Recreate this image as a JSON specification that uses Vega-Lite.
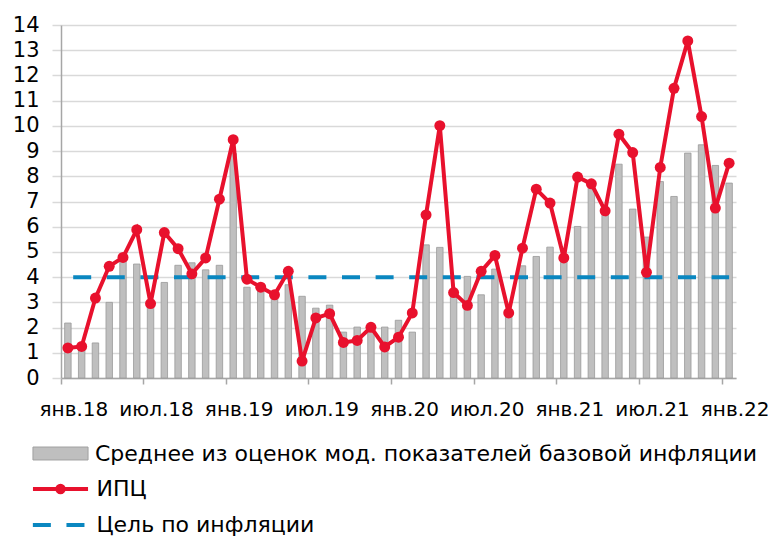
{
  "$schema": "https://vega.github.io/schema/vega-lite/v6.json",
  "width": 675,
  "height": 353,
  "autosize": {"type": "none"},
  "padding": {"left": 61, "top": 25, "right": 32, "bottom": 158},
  "background": "white",
  "config": {
    "view": {"stroke": null},
    "font": "DejaVu Sans",
    "legend": {
      "title": null, "orient": "none", "direction": "vertical", "padding": 0,
      "symbolSize": 1296, "labelFontSize": 22, "labelColor": "#000000", "labelLimit": 800
    },
    "axisY": {
      "labelFontSize": 21,
      "labelColor": "#000000",
      "labelPadding": 13,
      "labelOverlap": false,
      "tickSize": 9,
      "tickColor": "#d9d9d9",
      "tickWidth": 1.5,
      "gridColor": "#d9d9d9",
      "gridWidth": 1.5,
      "domainColor": "#a6a6a6",
      "domainWidth": 1.5
    },
    "axisX": {
      "labelFontSize": 20,
      "labelColor": "#000000",
      "labelPadding": 15,
      "labelOverlap": false,
      "labelBound": false,
      "labelFlush": false,
      "tickSize": 6,
      "tickColor": "#a6a6a6",
      "tickWidth": 1.5,
      "domainColor": "#a6a6a6",
      "domainWidth": 1.5,
      "grid": false
    }
  },
  "data": {"values": [
    {"m": "2018-01", "core": 2.18, "cpi": 1.19, "target": 4},
    {"m": "2018-02", "core": 1.35, "cpi": 1.25, "target": 4},
    {"m": "2018-03", "core": 1.39, "cpi": 3.17, "target": 4},
    {"m": "2018-04", "core": 3.0, "cpi": 4.43, "target": 4},
    {"m": "2018-05", "core": 4.62, "cpi": 4.78, "target": 4},
    {"m": "2018-06", "core": 4.52, "cpi": 5.88, "target": 4},
    {"m": "2018-07", "core": 2.9, "cpi": 2.95, "target": 4},
    {"m": "2018-08", "core": 3.79, "cpi": 5.77, "target": 4},
    {"m": "2018-09", "core": 4.47, "cpi": 5.13, "target": 4},
    {"m": "2018-10", "core": 4.57, "cpi": 4.13, "target": 4},
    {"m": "2018-11", "core": 4.29, "cpi": 4.76, "target": 4},
    {"m": "2018-12", "core": 4.47, "cpi": 7.09, "target": 4},
    {"m": "2019-01", "core": 8.9, "cpi": 9.45, "target": 4},
    {"m": "2019-02", "core": 3.6, "cpi": 3.92, "target": 4},
    {"m": "2019-03", "core": 3.5, "cpi": 3.6, "target": 4},
    {"m": "2019-04", "core": 3.35, "cpi": 3.3, "target": 4},
    {"m": "2019-05", "core": 3.7, "cpi": 4.23, "target": 4},
    {"m": "2019-06", "core": 3.24, "cpi": 0.67, "target": 4},
    {"m": "2019-07", "core": 2.77, "cpi": 2.38, "target": 4},
    {"m": "2019-08", "core": 2.89, "cpi": 2.55, "target": 4},
    {"m": "2019-09", "core": 1.82, "cpi": 1.41, "target": 4},
    {"m": "2019-10", "core": 2.02, "cpi": 1.49, "target": 4},
    {"m": "2019-11", "core": 1.98, "cpi": 2.01, "target": 4},
    {"m": "2019-12", "core": 2.02, "cpi": 1.23, "target": 4},
    {"m": "2020-01", "core": 2.29, "cpi": 1.62, "target": 4},
    {"m": "2020-02", "core": 1.82, "cpi": 2.58, "target": 4},
    {"m": "2020-03", "core": 5.28, "cpi": 6.47, "target": 4},
    {"m": "2020-04", "core": 5.18, "cpi": 10.01, "target": 4},
    {"m": "2020-05", "core": 3.3, "cpi": 3.39, "target": 4},
    {"m": "2020-06", "core": 4.03, "cpi": 2.88, "target": 4},
    {"m": "2020-07", "core": 3.3, "cpi": 4.23, "target": 4},
    {"m": "2020-08", "core": 4.32, "cpi": 4.86, "target": 4},
    {"m": "2020-09", "core": 2.5, "cpi": 2.58, "target": 4},
    {"m": "2020-10", "core": 4.45, "cpi": 5.15, "target": 4},
    {"m": "2020-11", "core": 4.82, "cpi": 7.49, "target": 4},
    {"m": "2020-12", "core": 5.19, "cpi": 6.94, "target": 4},
    {"m": "2021-01", "core": 4.65, "cpi": 4.76, "target": 4},
    {"m": "2021-02", "core": 6.01, "cpi": 7.97, "target": 4},
    {"m": "2021-03", "core": 7.53, "cpi": 7.7, "target": 4},
    {"m": "2021-04", "core": 6.5, "cpi": 6.63, "target": 4},
    {"m": "2021-05", "core": 8.48, "cpi": 9.67, "target": 4},
    {"m": "2021-06", "core": 6.7, "cpi": 8.94, "target": 4},
    {"m": "2021-07", "core": 5.59, "cpi": 4.19, "target": 4},
    {"m": "2021-08", "core": 7.79, "cpi": 8.35, "target": 4},
    {"m": "2021-09", "core": 7.2, "cpi": 11.49, "target": 4},
    {"m": "2021-10", "core": 8.92, "cpi": 13.37, "target": 4},
    {"m": "2021-11", "core": 9.25, "cpi": 10.37, "target": 4},
    {"m": "2021-12", "core": 8.43, "cpi": 6.74, "target": 4},
    {"m": "2022-01", "core": 7.73, "cpi": 8.52, "target": 4}
  ]},
  "encoding": {
    "x": {
      "field": "m", "type": "ordinal", "sort": null,
      "scale": {"paddingInner": 0, "paddingOuter": 0},
      "axis": {
        "title": null,
        "values": ["2018-01","2018-07","2019-01","2019-07","2020-01","2020-07","2021-01","2021-07","2022-01"],
        "labelExpr": "(substring(datum.value,5,7) == '01' ? 'янв.' : 'июл.') + substring(datum.value,2,4)",
        "bandPosition": 0,
        "labelOffset": 6,
        "labelAngle": 0
      }
    }
  },
  "resolve": {"scale": {"color": "independent"}, "legend": {"color": "independent"}},
  "layer": [
    {
      "mark": {"type": "bar", "width": {"band": 0.47}, "stroke": "#999999", "strokeWidth": 0.8},
      "encoding": {
        "y": {
          "field": "core", "type": "quantitative",
          "scale": {"domain": [0, 14], "nice": false},
          "axis": {"title": null, "values": [0,1,2,3,4,5,6,7,8,9,10,11,12,13,14]}
        },
        "color": {
          "datum": "Среднее из оценок мод. показателей базовой инфляции",
          "scale": {"range": ["#bfbfbf"]},
          "legend": {
            "legendX": -19, "legendY": 410, "labelOffset": 16,
            "symbolType": "M-1.53,-0.36H1.53V0.36H-1.53Z",
            "symbolFillColor": "#bfbfbf", "symbolStrokeColor": "#a0a0a0", "symbolStrokeWidth": 1, "symbolOpacity": 1
          }
        }
      }
    },
    {
      "mark": {"type": "line", "strokeWidth": 4, "strokeCap": "butt", "strokeDash": [0.001, 5.3, 18, 10.3]},
      "encoding": {
        "y": {"field": "target", "type": "quantitative", "axis": {"title": null, "values": [0,1,2,3,4,5,6,7,8,9,10,11,12,13,14]}},
        "color": {
          "datum": "Цель по инфляции",
          "scale": {"range": ["#0a87c0"]},
          "legend": {
            "legendX": -20.5, "legendY": 480, "labelOffset": 16,
            "symbolType": "M-1.83,0H1.36",
            "symbolStrokeColor": "#0a87c0", "symbolStrokeWidth": 4, "symbolOpacity": 1,
            "symbolDash": [0.001, 5.3, 18, 10.3]
          }
        }
      }
    },
    {
      "mark": {"type": "line", "strokeWidth": 4, "point": {"filled": true, "size": 120, "opacity": 1}},
      "encoding": {
        "y": {"field": "cpi", "type": "quantitative", "axis": {"title": null, "values": [0,1,2,3,4,5,6,7,8,9,10,11,12,13,14]}},
        "color": {
          "datum": "ИПЦ",
          "scale": {"range": ["#e8112d"]},
          "legend": {
            "legendX": -20.5, "legendY": 444, "labelOffset": 16,
            "symbolType": "M-1.53,0H1.53M0.18,0A0.18,0.18,0,1,1,-0.18,0A0.18,0.18,0,1,1,0.18,0M0.08,0A0.08,0.08,0,1,1,-0.08,0A0.08,0.08,0,1,1,0.08,0",
            "symbolStrokeColor": "#e8112d", "symbolStrokeWidth": 4, "symbolOpacity": 1
          }
        }
      }
    }
  ]
}
